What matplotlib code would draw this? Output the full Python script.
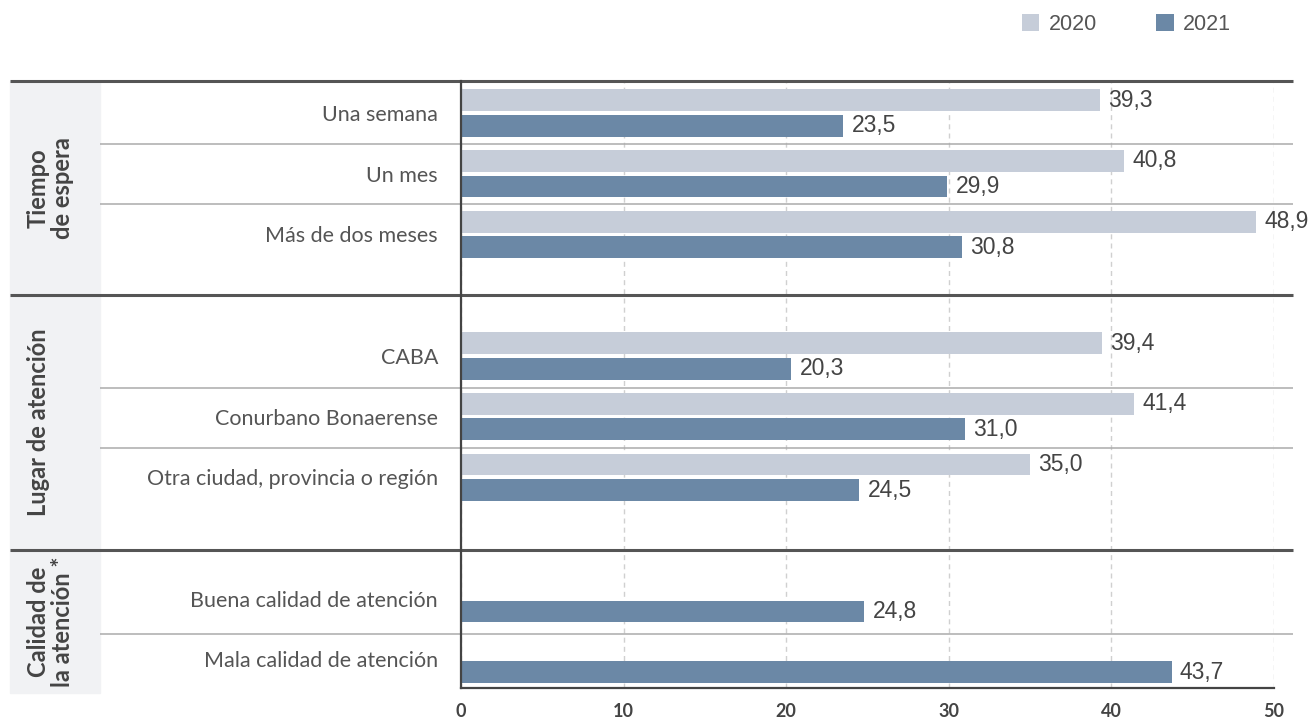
import matplotlib
matplotlib.use("Agg")
import matplotlib.pyplot as plt
import matplotlib.transforms as mtransforms
from matplotlib.patches import Rectangle
import numpy as np

# ---------------- data ----------------
group_names = ["Tiempo\nde espera", "Lugar de atención", "Calidad de\nla atención *"]
categories = ["Una semana", "Un mes", "Más de dos meses",
              "CABA", "Conurbano Bonaerense", "Otra ciudad, provincia o región",
              "Buena calidad de atención", "Mala calidad de atención"]
category_group = [0, 0, 0, 1, 1, 1, 2, 2]
values_2020 = [39.3, 40.8, 48.9, 39.4, 41.4, 35.0, None, None]
values_2021 = [23.5, 29.9, 30.8, 20.3, 31.0, 24.5, 24.8, 43.7]
series_names = ["2020", "2021"]
xticks = [0, 10, 20, 30, 40, 50]

# ---------------- style ----------------
C2020 = "#c6cdd9"
C2021 = "#6b88a6"
DARK = "#555555"
TXT = "#444444"
PANEL = "#f1f2f4"

W, H = 1312, 719
fig = plt.figure(figsize=(W / 100, H / 100), dpi=100)

# axes box in pixels
x0_px, x50_px = 461, 1274
top_px, bot_px = 81, 688
ax = fig.add_axes([x0_px / W, 1 - bot_px / H, (x50_px - x0_px) / W, (bot_px - top_px) / H])

# slot positions: one empty slot between groups
pos = np.array([i + g for i, g in enumerate(category_group)], dtype=float)
ytop, ybot = -0.527, 9.47
ax.set_ylim(ybot, ytop)
ax.set_xlim(0, 50)

bar_h = 0.36
off = 0.21

def fmt(v):
    return f"{v:.1f}".replace(".", ",")

idx20 = [i for i, v in enumerate(values_2020) if v is not None]
b20 = ax.barh(pos[idx20] - off, [values_2020[i] for i in idx20], height=bar_h,
              color=C2020, label=series_names[0], zorder=3)
b21 = ax.barh(pos + off, values_2021, height=bar_h, color=C2021,
              label=series_names[1], zorder=3)

for cont, vals in ((b20, [values_2020[i] for i in idx20]), (b21, values_2021)):
    texts = ax.bar_label(cont, labels=[fmt(v) for v in vals], padding=6, color=TXT)
    for t in texts:
        t.set_fontfamily(["Liberation Sans", "DejaVu Sans"])
        t.set_fontsize(16.5)

# ticks
ax.set_yticks(pos)
ax.set_yticklabels(categories, fontfamily=["Lato", "DejaVu Sans"], fontweight="normal",
                   fontsize=15.5, color="#555555")
ax.tick_params(axis="y", length=0, pad=16.5)
ax.set_xticks(xticks)
ax.set_xticklabels([str(t) for t in xticks], fontfamily=["Lato", "DejaVu Sans"],
                   fontweight="bold", fontsize=13, color="#444444")
ax.tick_params(axis="x", length=0, pad=10.5)

# grid
ax.set_axisbelow(True)
ax.xaxis.grid(True, color="#d0d0d0", linewidth=1.0, linestyle=(0, (3.6, 3.0)))
ax.yaxis.grid(False)

for s in ("top", "right"):
    ax.spines[s].set_visible(False)
for s in ("left", "bottom"):
    ax.spines[s].set_color("#444444")
    ax.spines[s].set_linewidth(1.6)
ax.spines["left"].set_zorder(5)

# left panel + separators (axes-fraction x, data y)
bt = mtransforms.blended_transform_factory(ax.transAxes, ax.transData)
px = lambda p: (p - x0_px) / (x50_px - x0_px)
panel_bottom = ybot + 0.08
ax.add_patch(Rectangle((px(10), ytop), px(100) - px(10), panel_bottom - ytop,
                       transform=bt, color=PANEL, clip_on=False, zorder=0))

group_tops = [ytop, 3.0, 7.2]
for yv in group_tops:
    ax.plot([px(10), px(1293)], [yv, yv], transform=bt, color=DARK, lw=2.2,
            clip_on=False, zorder=4, solid_capstyle="butt")
row_seps = [0.51, 1.5, 4.53, 5.52, 8.58]
for yv in row_seps:
    ax.plot([px(100), px(1293)], [yv, yv], transform=bt, color="#ababab", lw=1.1,
            clip_on=False, zorder=2, solid_capstyle="butt")

# group labels
group_bounds = group_tops + [panel_bottom]
for g, name in enumerate(group_names):
    yc = (group_bounds[g] + group_bounds[g + 1]) / 2
    ax.text(px(27), yc, name, transform=bt, rotation=90, ha="left", va="center",
            multialignment="center", fontfamily=["Lato", "DejaVu Sans"],
            fontweight="bold", fontsize=17, color="#444444", linespacing=1.05)

# legend
leg = fig.legend(handles=[b20, b21], labels=series_names, loc="upper left",
                 bbox_to_anchor=(1022 / W, 1 - 14 / H), ncol=2, frameon=False,
                 handlelength=0.8, handleheight=0.8, handletextpad=0.45,
                 columnspacing=2.75, borderpad=0, borderaxespad=0,
                 prop=dict(family=["Liberation Sans", "DejaVu Sans"], size=15.5))
for t in leg.get_texts():
    t.set_color("#555555")

fig.savefig("out.png", dpi=100)
